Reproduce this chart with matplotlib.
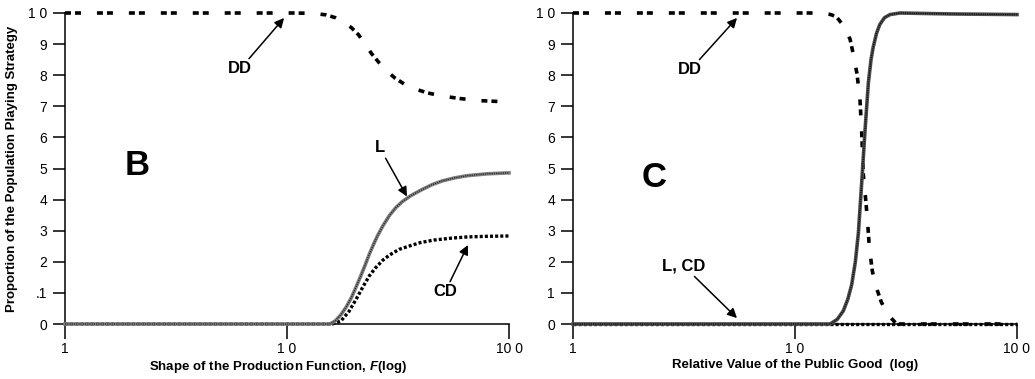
import matplotlib
matplotlib.use('Agg')
import matplotlib.pyplot as plt

plt.rcParams['font.family'] = ['Liberation Sans', 'DejaVu Sans']
plt.rcParams['mathtext.fontset'] = 'custom'
plt.rcParams['mathtext.it'] = 'Liberation Sans:bold:italic'
plt.rcParams['lines.scale_dashes'] = False

# Panel B: equilibrium proportions vs shape of the production function
b_dd_x = [1, 5, 10.5, 13, 15, 16.5, 18, 19.5, 21, 22.5, 24, 26, 28, 30.5, 34, 38, 43, 50, 60, 75, 100]
b_dd = [1.0, 1.0, 1.0, 0.999, 0.994, 0.985, 0.97, 0.953, 0.93, 0.90, 0.87, 0.84, 0.815, 0.792,
        0.77, 0.755, 0.743, 0.733, 0.725, 0.718, 0.714]
b_l_x = [1, 10, 15.6, 16.5, 17.5, 18.5, 19.5, 20.5, 21.5, 22.5, 23.5, 24.5, 25.5, 27, 29, 31,
         33, 36, 40, 45, 50, 57, 65, 80, 100]
b_l = [0, 0, 0, 0.01, 0.03, 0.055, 0.085, 0.12, 0.155, 0.19, 0.225, 0.255, 0.282, 0.315, 0.35,
       0.375, 0.393, 0.412, 0.43, 0.448, 0.46, 0.47, 0.477, 0.483, 0.486]
b_cd_x = [1, 10, 16, 17.5, 19, 20.5, 22, 23.5, 25, 27, 29, 32, 36, 40, 46, 55, 65, 80, 100]
b_cd = [0, 0, 0, 0.01, 0.04, 0.08, 0.12, 0.155, 0.18, 0.205, 0.222, 0.24, 0.252, 0.262, 0.27,
        0.276, 0.28, 0.282, 0.283]

# Panel C: equilibrium proportions vs relative value of the public good
c_dd_x = [1, 5, 13, 14.5, 15.4, 16.5, 17.7, 18.4, 19.0, 19.6, 20.0, 20.3, 20.9, 21.3, 21.6,
          22.3, 23.3, 24.5, 26.3, 28.7, 50, 100]
c_dd = [1.0, 1.0, 1.0, 0.995, 0.987, 0.96, 0.916, 0.86, 0.806, 0.728, 0.607, 0.482, 0.387,
        0.314, 0.25, 0.17, 0.115, 0.07, 0.029, 0, 0, 0]
c_l_x = [1, 10, 14.4, 15.5, 16.5, 17.3, 18.0, 18.7, 19.3, 20.0, 20.7, 21.4, 22.0, 22.5, 23.3,
         24.1, 25.3, 26.8, 29.7, 50, 100]
c_l = [0, 0, 0, 0.015, 0.042, 0.08, 0.126, 0.2, 0.293, 0.461, 0.628, 0.775, 0.85, 0.89, 0.935,
       0.963, 0.985, 0.995, 1.0, 0.997, 0.995]
c_cd_x = [1, 10, 100]
c_cd = [0, 0, 0]

x_ticks = [1, 10, 100]
x_ticklabels = ['1', '1 0', '10 0']
y_ticks = [0, 0.1, 0.2, 0.3, 0.4, 0.5, 0.6, 0.7, 0.8, 0.9, 1.0]
b_yticklabels = ['0', '.1', '2', '3', '4', '5', '6', '7', '8', '9', '1 0']
c_yticklabels = ['0', '1', '2', '3', '4', '5', '6', '7', '8', '9', '1 0']

DD_STYLE = dict(color='black', lw=2.6, linestyle=(0, (4.3, 2.9, 4.3, 11.5)), solid_capstyle='butt')
CD_STYLE = dict(color='black', lw=2.4, linestyle=(0, (2.2, 1.5)))


def draw_rope(ax, x, y, base, top):
    # twisted-rope look of the L line: a grey band with a fine dotted overlay
    ax.plot(x, y, color=base, lw=2.6, clip_on=False, zorder=3)
    ax.plot(x, y, color=top, lw=1.0, linestyle=(0, (0.8, 0.8)), clip_on=False, zorder=4)


def setup(ax, yticklabels):
    ax.set_xscale('log')
    ax.set_xlim(1, 100)
    ax.set_ylim(0, 1)
    ax.spines['top'].set_visible(False)
    ax.spines['right'].set_visible(False)
    ax.spines['left'].set_linewidth(1.1)
    ax.spines['bottom'].set_linewidth(1.1)
    ax.set_xticks(x_ticks)
    ax.set_xticklabels(x_ticklabels)
    ax.xaxis.set_minor_locator(matplotlib.ticker.NullLocator())
    ax.set_yticks(y_ticks)
    ax.set_yticklabels(yticklabels)
    ax.tick_params(axis='x', direction='out', length=11, width=1.1, pad=2, labelsize=10)
    ax.tick_params(axis='y', direction='out', length=9, width=1.1, pad=4, labelsize=10)


fig = plt.figure(figsize=(10.35, 3.79), dpi=100)
axb = fig.add_axes([65 / 1035, 55 / 379, 444 / 1035, 311 / 379])
axc = fig.add_axes([573 / 1035, 55 / 379, 444 / 1035, 311 / 379])

arrow = dict(arrowstyle='-|>', color='black', lw=1.1, mutation_scale=14, shrinkA=0, shrinkB=0)

# --- B ---
setup(axb, b_yticklabels)
axb.plot(b_dd_x, b_dd, clip_on=False, zorder=3, **DD_STYLE)
axb.plot(b_cd_x, b_cd, clip_on=False, zorder=3, **CD_STYLE)
draw_rope(axb, b_l_x, b_l, '0.5', '0.15')
axb.set_ylabel('Proportion of the Population Playing Strategy', fontsize=9.5, fontweight='bold')
axb.yaxis.set_label_coords(-0.105, 0.5)
axb.set_xlabel('Shape of the Production Function, $F$(log)', fontsize=9.5, fontweight='bold')
axb.xaxis.set_label_coords(0.48, -0.112)
axb.text(2.11, 0.51, 'B', fontsize=25, fontweight='bold', ha='center', va='center')

axb.annotate('DD', xy=(9.7, 0.984), xytext=(6.15, 0.82), fontsize=12, fontweight='bold',
             ha='center', va='center', arrowprops=arrow)
axb.annotate('L', xy=(34.7, 0.41), xytext=(26.2, 0.566), fontsize=12, fontweight='bold',
             ha='center', va='center', arrowprops=arrow)
axb.annotate('CD', xy=(65.3, 0.254), xytext=(51.5, 0.103), fontsize=12, fontweight='bold',
             ha='center', va='center', arrowprops=arrow)

# --- C ---
setup(axc, c_yticklabels)
axc.plot(c_cd_x, c_cd, clip_on=False, zorder=3, **CD_STYLE)
axc.plot(c_dd_x, c_dd, clip_on=False, zorder=3, **DD_STYLE)
draw_rope(axc, c_l_x, c_l, '0.3', '0.05')
axc.set_xlabel('Relative Value of the Public Good  (log)', fontsize=9.5, fontweight='bold')
axc.xaxis.set_label_coords(0.5, -0.112)
axc.text(2.32, 0.47, 'C', fontsize=25, fontweight='bold', ha='center', va='center')
axc.annotate('DD', xy=(5.48, 0.984), xytext=(3.37, 0.817), fontsize=12, fontweight='bold',
             ha='center', va='center', arrowprops=arrow)
axc.annotate('L, CD', xy=(5.48, 0.019), xytext=(3.16, 0.186), fontsize=12, fontweight='bold',
             ha='center', va='center', arrowprops=arrow)

fig.savefig('out.png', dpi=100)
